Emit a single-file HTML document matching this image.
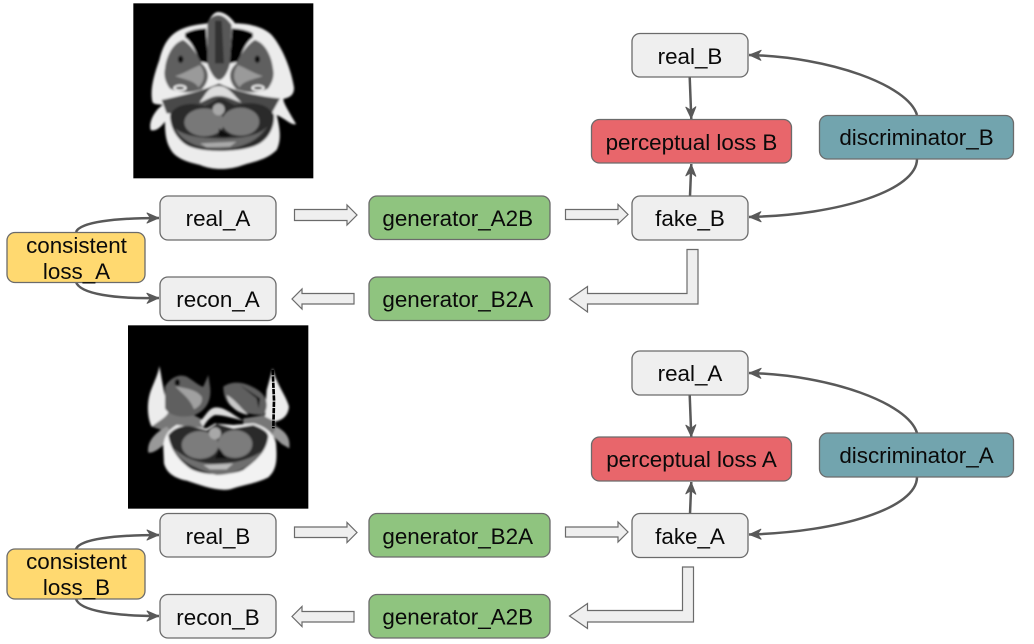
<!DOCTYPE html>
<html><head><meta charset="utf-8"><style>
html,body{margin:0;padding:0;background:#fff;width:1034px;height:644px;overflow:hidden}
svg{display:block}
text{font-family:"Liberation Sans",sans-serif;font-size:22.4px;fill:#0a0a0a;text-anchor:middle}
.b{stroke:#6b6b6b;stroke-width:1.3}
.g{fill:#efefef}.gr{fill:#8fc47f}.r{fill:#e8666b}.t{fill:#72a4ae}.y{fill:#ffd970}
.c{fill:none;stroke:#595959;stroke-width:2.5;marker-end:url(#ah)}
.ba{fill:#efefef;stroke:#6b6b6b;stroke-width:1.2}
</style></head><body>
<svg width="1034" height="644" viewBox="0 0 1034 644" xmlns="http://www.w3.org/2000/svg">
<defs>
<marker id="ah" markerUnits="userSpaceOnUse" markerWidth="16" markerHeight="14" refX="13.500" refY="7" orient="auto">
<path d="M1.500,2 L13,7 L1.500,12 L5,7 Z" fill="#595959" stroke="#595959" stroke-width="1" stroke-linejoin="round"/>
</marker>
<filter id="bl" x="-5%" y="-5%" width="110%" height="110%"><feGaussianBlur stdDeviation="3.500"/></filter>
<clipPath id="c1"><rect x="40" y="10" width="540" height="525"/></clipPath>
<clipPath id="c2"><rect x="24" y="16" width="541" height="550"/></clipPath>
<g id="half1">
<path d="M195,100 C215,88 245,85 258,85 L265,190 L240,185 C225,150 215,125 195,112Z" fill="#000"/>
<path d="M135,205 C140,160 165,125 190,120 C215,135 235,170 245,190 C268,210 272,240 245,268 C215,278 185,282 150,266 C135,245 130,225 135,205Z" fill="#5e5e5e"/>
<path d="M165,228 C190,222 215,205 240,195 C255,215 258,240 235,262 C225,242 190,238 165,228Z" fill="#9a9a9a"/>
<ellipse cx="182" cy="178" rx="8" ry="11" fill="#111"/>
<ellipse cx="180" cy="264" rx="20" ry="10" fill="#f0f0f0"/>
<ellipse cx="180" cy="264" rx="13" ry="4" fill="#333"/>
</g>
</defs>

<!-- brain 1 -->
<g transform="translate(120,0) scale(.33333)">
<rect x="40" y="10" width="540" height="525" fill="#000"/>
<g filter="url(#bl)" clip-path="url(#c1)">
<path d="M295,36 C315,36 335,55 345,70 C385,70 430,80 455,105 C490,145 515,215 522,262 C523,280 515,292 490,297 C490,310 510,340 528,372 C515,378 495,355 470,345 C480,385 485,420 470,450 C440,480 400,485 370,495 C330,510 280,512 240,495 C200,485 165,475 150,445 C135,420 135,385 135,365 C120,385 105,395 92,390 C85,365 105,330 128,315 C115,312 100,315 97,305 C90,270 100,230 118,180 C130,130 150,100 190,85 C215,75 245,72 262,70 C270,55 280,36 295,36Z" fill="#ececec"/>
<path d="M125,300 C190,285 240,275 297,250 C350,275 420,290 480,295 L455,340 L140,340Z" fill="#4a4a4a"/>
<use href="#half1"/>
<use href="#half1" transform="translate(594,0) scale(-1,1)"/>
<path d="M262,70 C270,50 285,45 295,45 C310,45 325,60 335,75 L330,190 C325,215 310,240 297,240 C285,240 270,215 262,190Z" fill="#585858"/>
<path d="M285,62 L305,62 L312,190 L285,190Z" fill="#303030"/>
<path d="M240,305 C260,280 265,258 297,258 C325,258 340,285 365,308 C340,300 320,288 297,288 C275,288 260,300 240,308Z" fill="#ddd"/>
<path d="M150,345 C165,310 220,305 255,318 C275,310 290,295 300,295 C315,295 330,310 345,315 C385,305 440,305 462,345 C465,380 445,420 410,435 C370,455 260,460 210,440 C175,425 150,385 150,345Z" fill="#2a2a2a"/>
<path d="M165,385 C190,430 240,445 300,447 C360,445 410,430 445,375 C425,405 370,415 310,415 C250,415 195,410 165,385Z" fill="#686868"/>
<ellipse cx="253" cy="367" rx="60" ry="42" fill="#787878"/>
<ellipse cx="362" cy="365" rx="56" ry="42" fill="#787878"/>
<circle cx="296" cy="328" r="18" fill="#a8a8a8"/>
<path d="M297,385 C310,395 325,402 335,406 L315,412 L295,408Z" fill="#111"/>
<path d="M240,430 L350,425 330,440 260,442Z" fill="#aaa"/>
</g>
</g>

<!-- brain 2 -->
<g transform="translate(120,320) scale(.33333)">
<rect x="24" y="16" width="541" height="550" fill="#000"/>
<g filter="url(#bl)" clip-path="url(#c2)">
<path d="M95,320 L145,262 L220,285 L250,300 L250,330 L140,335Z" fill="#777"/>
<path d="M465,305 L435,285 L370,295 L370,325 L475,345Z" fill="#777"/>
<path d="M118,138 C125,170 130,220 145,260 C155,285 120,300 95,320 C80,290 80,240 95,205 C105,180 115,160 118,138Z" fill="#ececec"/>
<path d="M458,145 C468,190 500,230 507,260 C505,285 490,300 465,305 L435,290 L440,210Z" fill="#ececec"/>
<path d="M135,200 C150,175 175,160 200,170 C225,185 240,200 250,200 L265,165 L270,200 C275,240 260,270 225,285 C190,295 150,290 135,265Z" fill="#5e5e5e"/>
<path d="M165,198 C190,205 225,205 245,230 C250,250 235,262 222,268 C210,235 185,220 165,198Z" fill="#a0a0a0"/>
<ellipse cx="172" cy="188" rx="8" ry="11" fill="#111"/>
<path d="M310,200 C340,180 380,185 420,215 C445,235 445,265 430,285 C400,285 360,280 335,260 C315,245 310,220 310,200Z" fill="#5e5e5e"/>
<path d="M320,225 C340,235 355,255 385,285 C355,280 325,260 320,225Z" fill="#c8c8c8"/>
<path d="M360,195 L420,235 416,265 410,235Z" fill="#000"/>
<path d="M240,305 C262,280 268,262 290,262 C315,262 340,285 370,302 C340,295 310,285 285,285 C270,290 255,310 250,322Z" fill="#ddd"/>
<path d="M85,398 C80,370 100,340 140,320 L150,330 L135,370 C120,385 100,400 85,398Z" fill="#999"/>
<path d="M508,385 C510,360 505,340 470,320 L455,345 L485,372Z" fill="#999"/>
<path d="M130,385 C130,350 145,330 170,315 L260,325 L285,310 L340,315 L400,310 C440,320 465,345 468,370 C472,420 470,450 445,472 C410,490 370,495 330,508 C290,515 240,495 200,482 C165,475 140,460 132,430Z" fill="#f2f2f2"/>
<path d="M145,345 C160,325 185,315 210,318 L260,330 L290,310 L340,325 L400,315 C425,325 445,335 445,350 C440,385 425,410 370,450 C340,465 250,470 210,445 C175,420 150,385 145,345Z" fill="#2a2a2a"/>
<path d="M160,385 C175,415 205,440 290,465 C340,465 395,440 425,395 C385,420 340,432 290,432 C240,432 195,415 160,385Z" fill="#6e6e6e"/>
<ellipse cx="240" cy="375" rx="55" ry="42" fill="#7c7c7c"/>
<ellipse cx="345" cy="372" rx="52" ry="42" fill="#7c7c7c"/>
<circle cx="285" cy="340" r="18" fill="#a8a8a8"/>
<path d="M298,385 L320,415 L285,415Z" fill="#111"/>
<path d="M250,435 L340,430 320,448 270,448Z" fill="#bbb"/>
</g>
<path d="M458,150 L462,240 460,325" stroke="#000" stroke-width="8" fill="none" stroke-dasharray="16 3"/>
</g>

<!-- curved connectors, left -->
<path class="c" d="M76,232 C80,222 115,218 159,218"/>
<path class="c" d="M76,282 C80,294 115,299 159,298"/>
<path class="c" d="M76,549 C80,539 115,535 159,535"/>
<path class="c" d="M76,599 C80,611 115,616 159,616"/>

<!-- right connectors -->
<path class="c" d="M689.700,77 L691.300,119"/>
<path class="c" d="M690,196 L691.300,164"/>
<path class="c" d="M917,115 C908,85 830,57 749,55"/>
<path class="c" d="M917,159 C917,190 840,215 749,217"/>
<path class="c" d="M689.700,395 L691.300,437"/>
<path class="c" d="M690,514 L691.300,482"/>
<path class="c" d="M917,433 C908,403 830,375 749,373"/>
<path class="c" d="M917,477 C917,508 840,532 749,534.500"/>

<!-- block arrows -->
<path class="ba" d="M294.500,209.500H347V205L357,215L347,225V220.500H294.500Z"/>
<path class="ba" d="M565.500,209.500H618V204.500L628,214.500L618,224V219.500H565.500Z"/>
<path class="ba" d="M354,293.500H302V289L292,299L302,309V304H354Z"/>
<path class="ba" d="M687,249.500H698V304H587.500V312L569.500,299L587.500,286.500V293.500H687Z"/>
<path class="ba" d="M294.500,527H347V522.500L357,532.500L347,542.500V537.500H294.500Z"/>
<path class="ba" d="M565.500,527H618V522L628,532L618,542V537H565.500Z"/>
<path class="ba" d="M354,611.500H302V606.500L292,616.500L302,626.500V622H354Z"/>
<path class="ba" d="M682.500,567H693.500V622H587.500V628.500L569.500,616L587.500,603.500V610.500H682.500Z"/>

<!-- nodes -->
<rect class="b y" x="7" y="232.500" width="138" height="50" rx="8"/>
<text x="76.500" y="253">consistent</text><text x="76.500" y="279">loss_A</text>
<rect class="b g" x="160" y="196" width="116" height="44" rx="8"/><text x="218" y="226">real_A</text>
<rect class="b g" x="160" y="277" width="116" height="43.500" rx="8"/><text x="218" y="307">recon_A</text>
<rect class="b gr" x="369" y="196" width="181" height="43.500" rx="8"/><text x="457.700" y="226">generator_A2B</text>
<rect class="b gr" x="369" y="277" width="181" height="43.500" rx="8"/><text x="457.700" y="307">generator_B2A</text>
<rect class="b g" x="632" y="33.500" width="116" height="43.500" rx="8"/><text x="690" y="64">real_B</text>
<rect class="b r" x="591.500" y="119.500" width="200" height="43.500" rx="8"/><text x="691.500" y="150">perceptual loss B</text>
<rect class="b g" x="632" y="196" width="116" height="44" rx="8"/><text x="690" y="226">fake_B</text>
<rect class="b t" x="819.500" y="115.500" width="194" height="43.500" rx="8"/><text x="916.500" y="145">discriminator_B</text>

<rect class="b y" x="7" y="549" width="138" height="50" rx="8"/>
<text x="76.500" y="569">consistent</text><text x="76.500" y="595">loss_B</text>
<rect class="b g" x="160" y="513.500" width="116" height="43.500" rx="8"/><text x="218" y="544">real_B</text>
<rect class="b g" x="160" y="594.500" width="116" height="43.500" rx="8"/><text x="218" y="625">recon_B</text>
<rect class="b gr" x="369" y="513.500" width="181" height="43.500" rx="8"/><text x="457.700" y="544">generator_B2A</text>
<rect class="b gr" x="369" y="594.500" width="181" height="43.500" rx="8"/><text x="457.700" y="624.500">generator_A2B</text>
<rect class="b g" x="632" y="351" width="116" height="44" rx="8"/><text x="690" y="381">real_A</text>
<rect class="b r" x="591.500" y="437" width="200" height="44" rx="8"/><text x="691.500" y="467">perceptual loss A</text>
<rect class="b g" x="632" y="513.500" width="116" height="44" rx="8"/><text x="690" y="544">fake_A</text>
<rect class="b t" x="819.500" y="433" width="194" height="44" rx="8"/><text x="916.500" y="463">discriminator_A</text>
</svg>
</body></html>
